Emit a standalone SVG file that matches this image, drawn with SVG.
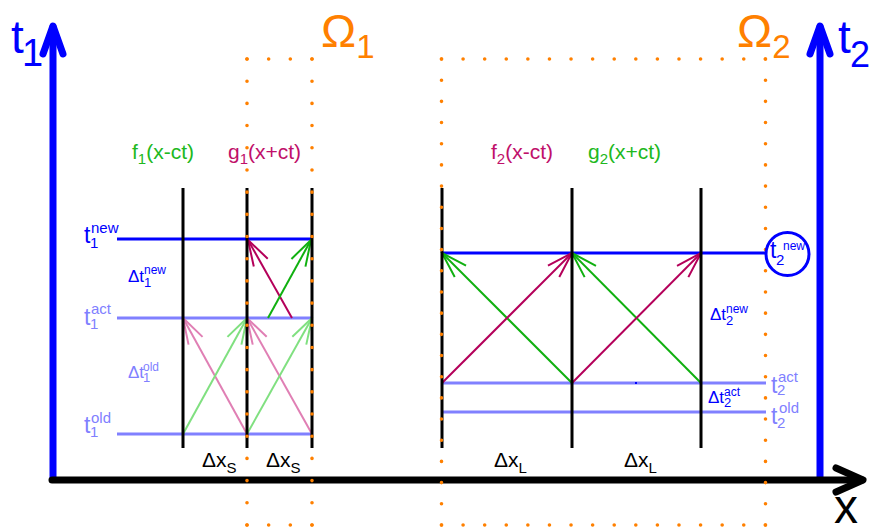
<svg xmlns="http://www.w3.org/2000/svg" width="869" height="532" viewBox="0 0 869 532">
  <style>
    text { font-family: "Liberation Sans", Arial, sans-serif; }
    .axis { fill: none; stroke-linecap: round; stroke-linejoin: round; stroke-width: 7; }
    .dots { stroke: #ff8000; stroke-width: 3.6; stroke-linecap: round; fill: none; }
    .vline { stroke: #000; stroke-width: 3; }
    .hnew { stroke: #0000ff; stroke-width: 3; }
    .hold { stroke: #8080ff; stroke-width: 3; }
    .pur { stroke: #b4005a; stroke-width: 2; marker-end: url(#ah-pur); }
    .grn { stroke: #10b010; stroke-width: 2; marker-end: url(#ah-grn); }
    .lpur { stroke: #e07fb4; stroke-width: 2; marker-end: url(#ah-lpur); }
    .lgrn { stroke: #80e080; stroke-width: 2; marker-end: url(#ah-lgrn); }
    .blue { fill: #0000ff; }
    .lblue { fill: #8080ff; }
    .orange { fill: #ff8000; }
    .tgrn { fill: #20b820; }
    .tpur { fill: #c0106a; }
  </style>
  <defs>
    <marker id="ah-pur" viewBox="-30 -12 32 24" markerWidth="32" markerHeight="24" refX="0" refY="0" orient="auto" markerUnits="userSpaceOnUse">
      <path d="M-26,-8 L0,0 L-26,8" fill="none" stroke="#b4005a" stroke-width="2"/>
    </marker>
    <marker id="ah-grn" viewBox="-30 -12 32 24" markerWidth="32" markerHeight="24" refX="0" refY="0" orient="auto" markerUnits="userSpaceOnUse">
      <path d="M-26,-8 L0,0 L-26,8" fill="none" stroke="#10b010" stroke-width="2"/>
    </marker>
    <marker id="ah-lpur" viewBox="-30 -12 32 24" markerWidth="32" markerHeight="24" refX="0" refY="0" orient="auto" markerUnits="userSpaceOnUse">
      <path d="M-26,-8 L0,0 L-26,8" fill="none" stroke="#e07fb4" stroke-width="2"/>
    </marker>
    <marker id="ah-lgrn" viewBox="-30 -12 32 24" markerWidth="32" markerHeight="24" refX="0" refY="0" orient="auto" markerUnits="userSpaceOnUse">
      <path d="M-26,-8 L0,0 L-26,8" fill="none" stroke="#80e080" stroke-width="2"/>
    </marker>
  </defs>

  <rect width="869" height="532" fill="#fff"/>

  <!-- axes -->
  <g id="axes">
    <line class="axis" x1="53" y1="478" x2="53" y2="27" stroke="#0000ff"/>
    <polyline class="axis" points="43,54 53,26 63,54" stroke="#0000ff"/>
    <line class="axis" x1="820" y1="478" x2="820" y2="27" stroke="#0000ff"/>
    <polyline class="axis" points="810,54 820,26 830,54" stroke="#0000ff"/>
    <line class="axis" x1="52" y1="480" x2="862" y2="480" stroke="#000"/>
    <polyline class="axis" points="836,468 863,480 836,492" stroke="#000"/>
  </g>

  <!-- time levels -->
  <g id="time-levels">
    <line class="hnew" x1="117" y1="239" x2="312" y2="239"/>
    <line class="hold" x1="117" y1="318" x2="312" y2="318"/>
    <line class="hold" x1="117" y1="434" x2="312" y2="434"/>
    <line class="hnew" x1="442" y1="253" x2="766" y2="253"/>
    <line class="hold" x1="442" y1="383" x2="766" y2="383"/>
    <line class="hold" x1="442" y1="412" x2="766" y2="412"/>
    <rect x="635" y="382" width="2" height="2" fill="#0000ff"/>
  </g>

  <!-- characteristics (connectors) -->
  <g id="connectors">
    <line class="lpur" x1="247" y1="434" x2="183" y2="318"/>
    <line class="lgrn" x1="183" y1="434" x2="247" y2="318"/>
    <line class="lpur" x1="312" y1="434" x2="247" y2="318"/>
    <line class="lgrn" x1="247" y1="434" x2="312" y2="318"/>
    <line class="pur" x1="292" y1="318" x2="248" y2="240"/>
    <line class="grn" x1="268" y1="318" x2="311" y2="240"/>
    <line class="grn" x1="572" y1="383" x2="442" y2="253"/>
    <line class="pur" x1="442" y1="383" x2="572" y2="253"/>
    <line class="grn" x1="701" y1="383" x2="572" y2="253"/>
    <line class="pur" x1="572" y1="383" x2="701" y2="253"/>
  </g>

  <!-- grid points -->
  <g id="grid-lines">
    <line class="vline" x1="183" y1="188" x2="183" y2="448"/>
    <line class="vline" x1="247" y1="188" x2="247" y2="448"/>
    <line class="vline" x1="312" y1="188" x2="312" y2="448"/>
    <line class="vline" x1="442" y1="188" x2="442" y2="448"/>
    <line class="vline" x1="572" y1="188" x2="572" y2="448"/>
    <line class="vline" x1="701" y1="188" x2="701" y2="448"/>
  </g>

  <!-- subdomains -->
  <g id="omega1">
    <line class="dots" x1="247" y1="59" x2="247" y2="525" stroke-dasharray="0 22.19"/>
    <line class="dots" x1="312" y1="59" x2="312" y2="525" stroke-dasharray="0 22.19"/>
    <line class="dots" x1="247" y1="59" x2="312" y2="59" stroke-dasharray="0 21.66"/>
    <line class="dots" x1="247" y1="525" x2="312" y2="525" stroke-dasharray="0 21.66"/>
    <text class="orange" x="321" y="47" font-size="47">Ω<tspan font-size="33" y="58">1</tspan></text>
  </g>
  <g id="omega2">
    <line class="dots" x1="441.5" y1="59" x2="441.5" y2="525" stroke-dasharray="0 21.18"/>
    <line class="dots" x1="765.5" y1="59" x2="765.5" y2="525" stroke-dasharray="0 21.18"/>
    <line class="dots" x1="441.5" y1="59" x2="765.5" y2="59" stroke-dasharray="0 21.59"/>
    <line class="dots" x1="441.5" y1="525" x2="765.5" y2="525" stroke-dasharray="0 21.59"/>
    <text class="orange" x="737" y="47" font-size="47">Ω<tspan font-size="33" y="58">2</tspan></text>
  </g>

  <!-- axis labels -->
  <g id="axis-labels">
    <text class="blue" x="11" y="53" font-size="46">t<tspan x="22" y="66" font-size="38">1</tspan></text>
    <text class="blue" x="838" y="53" font-size="46">t<tspan x="850" y="67" font-size="36">2</tspan></text>
    <text x="834" y="523" font-size="48" fill="#000">x</text>
  </g>

  <!-- wave labels -->
  <g id="wave-labels" font-size="21">
    <text class="tgrn" x="132" y="159">f<tspan font-size="15" dy="5">1</tspan><tspan dy="-5">(x-ct)</tspan></text>
    <text class="tpur" x="228" y="159">g<tspan font-size="15" dy="5">1</tspan><tspan dy="-5">(x+ct)</tspan></text>
    <text class="tpur" x="491" y="159">f<tspan font-size="15" dy="5">2</tspan><tspan dy="-5">(x-ct)</tspan></text>
    <text class="tgrn" x="588" y="159">g<tspan font-size="15" dy="5">2</tspan><tspan dy="-5">(x+ct)</tspan></text>
  </g>

  <!-- time labels -->
  <g id="time-labels-1">
    <text class="blue" x="84" y="243" font-size="23">t</text>
    <text class="blue" x="91" y="233" font-size="15">new</text>
    <text class="blue" x="90" y="248" font-size="15">1</text>
    <text class="lblue" x="84" y="325" font-size="23">t</text>
    <text class="lblue" x="91" y="314" font-size="15">act</text>
    <text class="lblue" x="90" y="329" font-size="15">1</text>
    <text class="lblue" x="84" y="433" font-size="23">t</text>
    <text class="lblue" x="91" y="423" font-size="15">old</text>
    <text class="lblue" x="90" y="437" font-size="15">1</text>
    <text class="blue" x="128" y="282" font-size="17">Δt</text>
    <text class="blue" x="144" y="274" font-size="12">new</text>
    <text class="blue" x="144" y="287" font-size="13">1</text>
    <text class="lblue" x="128" y="378" font-size="17">Δt</text>
    <text class="lblue" x="143" y="371" font-size="12">old</text>
    <text class="lblue" x="143" y="382" font-size="13">1</text>
  </g>
  <g id="time-labels-2">
    <circle cx="787.5" cy="254" r="21.5" fill="none" stroke="#0000ff" stroke-width="3"/>
    <text class="blue" x="770" y="258" font-size="23">t</text>
    <text class="blue" x="783" y="250" font-size="12">new</text>
    <text class="blue" x="776" y="265" font-size="15">2</text>
    <text class="lblue" x="771" y="393" font-size="23">t</text>
    <text class="lblue" x="778" y="382" font-size="15">act</text>
    <text class="lblue" x="777" y="395" font-size="15">2</text>
    <text class="lblue" x="771" y="424" font-size="23">t</text>
    <text class="lblue" x="779" y="413" font-size="15">old</text>
    <text class="lblue" x="777" y="428" font-size="15">2</text>
    <text class="blue" x="710" y="320" font-size="17">Δt</text>
    <text class="blue" x="726" y="313" font-size="12">new</text>
    <text class="blue" x="726" y="325" font-size="13">2</text>
    <text class="blue" x="708" y="403" font-size="17">Δt</text>
    <text class="blue" x="724" y="396" font-size="12">act</text>
    <text class="blue" x="724" y="407" font-size="13">2</text>
  </g>

  <!-- spacing labels -->
  <g id="spacing-labels" font-size="21" fill="#000">
    <text x="202" y="467">Δx<tspan font-size="15" dy="6">S</tspan></text>
    <text x="266" y="467">Δx<tspan font-size="15" dy="6">S</tspan></text>
    <text x="494" y="467">Δx<tspan font-size="15" dy="6">L</tspan></text>
    <text x="624" y="467">Δx<tspan font-size="15" dy="6">L</tspan></text>
  </g>
</svg>
